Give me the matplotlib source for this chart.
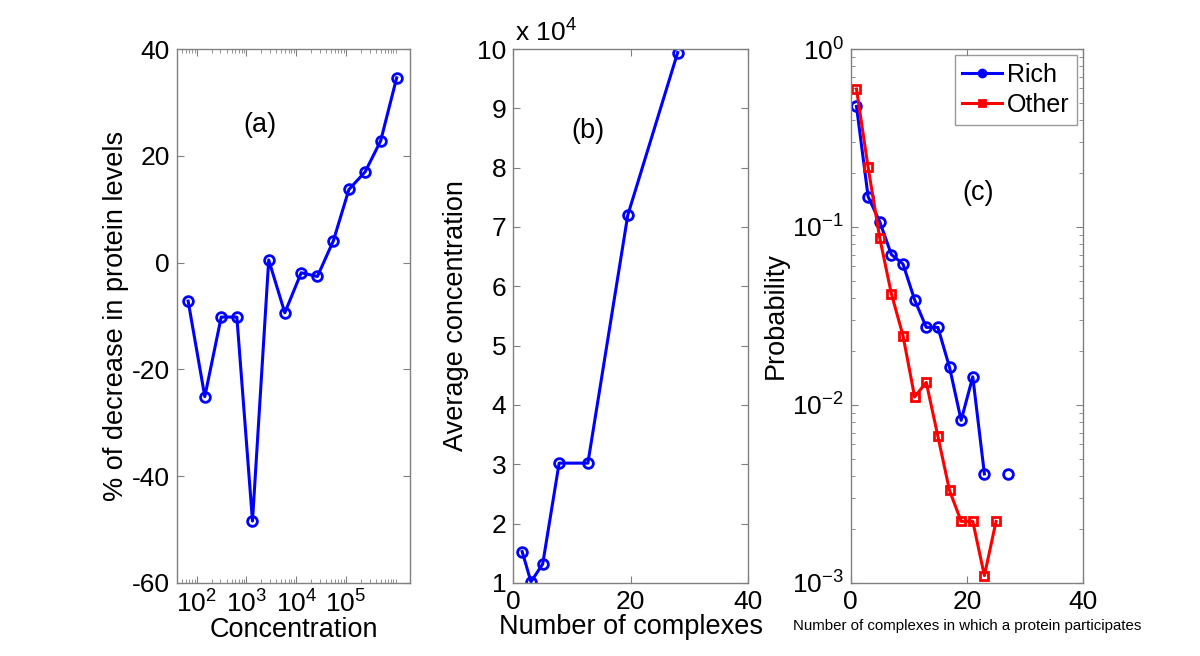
import numpy as np
import matplotlib
matplotlib.use('Agg')
import matplotlib.pyplot as plt
from matplotlib.ticker import FixedLocator, FuncFormatter, NullFormatter, LogLocator

plt.rcParams['font.family'] = ['Liberation Sans', 'DejaVu Sans']
plt.rcParams['mathtext.fontset'] = 'custom'
plt.rcParams['mathtext.rm'] = 'Liberation Sans'
plt.rcParams['mathtext.it'] = 'Liberation Sans'
plt.rcParams['axes.unicode_minus'] = False

# (a) percentage decrease vs concentration
conc = [67, 145, 310, 640, 1320, 2800, 5900, 12600, 26700, 56000,
        115000, 244000, 500000, 1050000]
pct_decrease = [-7.2, -25.1, -10.2, -10.2, -48.4, 0.5, -9.4, -1.9, -2.6, 4.1,
                13.7, 17.0, 22.8, 34.6]

# (b) average concentration vs number of complexes
n_complexes = [1.5, 3.0, 5.0, 7.8, 12.7, 19.5, 28.0]
avg_conc = [15300, 10200, 13200, 30200, 30200, 72000, 99400]

# (c) probability distributions
k_vals = [1, 3, 5, 7, 9, 11, 13, 15, 17, 19, 21, 23, 25, 27]
p_rich = [0.476, 0.148, 0.107, 0.070, 0.062, 0.039, 0.0273, 0.0273, 0.0163,
          0.0082, 0.0144, 0.0041, np.nan, 0.0041]
p_other = [0.596, 0.216, 0.0867, 0.0422, 0.0245, 0.0111, 0.0134, 0.00667,
           0.00331, 0.00222, 0.00222, 0.0011, 0.00222, np.nan]

TICK_FS = 19
LABEL_FS = 19.5
EDGE = '#808080'
line_kw = dict(linewidth=2.2, markersize=7, markeredgewidth=2, markerfacecolor='none')

fig = plt.figure(figsize=(12, 6.56), dpi=100)
ax_a = fig.add_axes([0.1475, 0.1113, 0.1942, 0.814])
ax_b = fig.add_axes([0.4278, 0.1113, 0.1956, 0.814])
ax_c = fig.add_axes([0.7089, 0.1113, 0.1938, 0.814])

for ax in (ax_a, ax_b, ax_c):
    for sp in ax.spines.values():
        sp.set_color(EDGE)
        sp.set_linewidth(1.0)
    ax.tick_params(which='both', direction='in', top=True, right=True,
                   color=EDGE, labelsize=TICK_FS, pad=5)
    ax.tick_params(which='major', length=5)
    ax.tick_params(which='minor', length=3)

# panel (a)
ax_a.plot(conc, pct_decrease, color='#0000ff', marker='o', **line_kw)
ax_a.set_xscale('log')
ax_a.set_xlim(40, 1.95e6)
ax_a.set_ylim(-60, 40)
ax_a.set_yticks([-60, -40, -20, 0, 20, 40])
ax_a.xaxis.set_major_locator(FixedLocator([1e2, 1e3, 1e4, 1e5]))
minor_a = [m * 10 ** e for e in range(1, 6) for m in range(2, 10)] + [1e6]
ax_a.xaxis.set_minor_locator(FixedLocator([v for v in minor_a if v >= 40]))
ax_a.xaxis.set_minor_formatter(NullFormatter())
ax_a.set_xlabel('Concentration', fontsize=LABEL_FS, labelpad=0)
ax_a.set_ylabel('% of decrease in protein levels', fontsize=LABEL_FS, labelpad=2)
ax_a.text(0.356, 0.858, '(a)', transform=ax_a.transAxes, fontsize=LABEL_FS,
          ha='center', va='center')

# panel (b)
ax_b.plot(n_complexes, avg_conc, color='#0000ff', marker='o', **line_kw)
ax_b.set_xlim(0, 40)
ax_b.set_ylim(1e4, 1e5)
ax_b.set_xticks([0, 20, 40])
ax_b.set_yticks(np.arange(1, 11) * 1e4)
ax_b.yaxis.set_major_formatter(FuncFormatter(lambda v, p: '%d' % round(v / 1e4)))
ax_b.text(0.005, 1.005, r'x 10$^{4}$', transform=ax_b.transAxes, fontsize=TICK_FS,
          ha='left', va='bottom')
ax_b.set_xlabel('Number of complexes', fontsize=LABEL_FS, labelpad=0)
ax_b.set_ylabel('Average concentration', fontsize=LABEL_FS, labelpad=6)
ax_b.text(0.318, 0.846, '(b)', transform=ax_b.transAxes, fontsize=LABEL_FS,
          ha='center', va='center')

# panel (c)
ax_c.plot(k_vals, p_rich, color='#0000ff', marker='o', label='Rich', **line_kw)
ax_c.plot(k_vals, p_other, color='#ff0000', marker='s', label='Other',
          linewidth=2.2, markersize=6, markeredgewidth=2, markerfacecolor='none')
ax_c.set_yscale('log')
ax_c.set_xlim(0, 40)
ax_c.set_ylim(1e-3, 1)
ax_c.set_xticks([0, 20, 40])
ax_c.yaxis.set_minor_locator(LogLocator(base=10, subs=np.arange(2, 10)))
ax_c.yaxis.set_minor_formatter(NullFormatter())
ax_c.set_xlabel('Number of complexes in which a protein participates', fontsize=10.8,
                labelpad=4)
ax_c.set_ylabel('Probability', fontsize=LABEL_FS, labelpad=2)
ax_c.text(0.549, 0.730, '(c)', transform=ax_c.transAxes, fontsize=LABEL_FS,
          ha='center', va='center')
leg = ax_c.legend(loc='upper right', bbox_to_anchor=(0.975, 0.988), fontsize=18,
                  frameon=True, fancybox=False, borderaxespad=0, handlelength=1.6,
                  handletextpad=0.2, borderpad=0.3, labelspacing=0.25)
leg.get_frame().set_edgecolor(EDGE)
leg.get_frame().set_linewidth(1.0)
for h in leg.legend_handles:
    h.set_markerfacecolor(h.get_color())
    h.set_markersize(5)

fig.savefig('out.png', dpi=100)
